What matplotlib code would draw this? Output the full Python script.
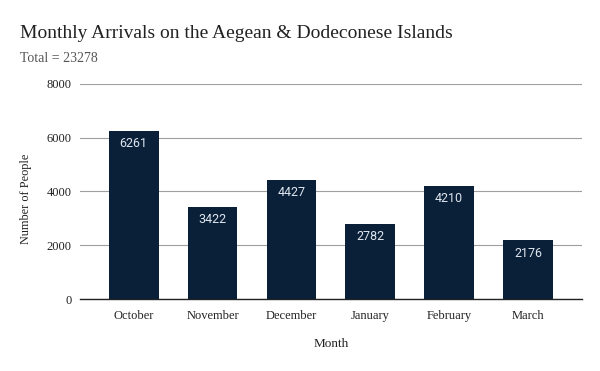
import numpy as np
import matplotlib.pyplot as plt

# Data
months = ['October', 'November', 'December', 'January', 'February', 'March']
arrivals = [6261, 3422, 4427, 2782, 4210, 2176]
yticks = [0, 2000, 4000, 6000, 8000]

bar_color = '#0a1f38'
serif = ['Liberation Serif', 'DejaVu Serif']

fig = plt.figure(figsize=(6, 3.71), dpi=100)
ax = fig.add_axes([0.133, 0.194, 0.837, 0.580])

x = np.arange(len(months))
bars = ax.bar(x, arrivals, width=0.63, color=bar_color, zorder=3)

for b, v in zip(bars, arrivals):
    ax.text(b.get_x() + b.get_width() / 2, v - 230, str(v), ha='center', va='top',
            color='#dfe6ee', fontsize=9, family=['Roboto', 'DejaVu Sans'], zorder=4)

ax.set_xlim(-0.684, len(months) - 1 + 0.684)
ax.set_ylim(0, 8000)
ax.set_yticks(yticks)
ax.set_yticklabels([str(t) for t in yticks], family=serif, fontsize=9, color='#222222')
ax.set_xticks(x)
ax.set_xticklabels(months, family=serif, fontsize=9, color='#222222')
ax.tick_params(axis='y', length=0, pad=6)
ax.tick_params(axis='x', length=0, pad=8)
ax.yaxis.grid(True, color='#9e9e9e', linewidth=0.8, zorder=0)

for side in ['top', 'right', 'left']:
    ax.spines[side].set_visible(False)
ax.spines['bottom'].set_color('#222222')
ax.spines['bottom'].set_linewidth(1)

ax.set_xlabel('Month', family=serif, fontsize=9.5, color='#222222')
ax.xaxis.set_label_coords(0.5, -(344 - 299) / 215, transform=ax.transAxes)
ax.set_ylabel('Number of People', family=serif, fontsize=8.8, color='#222222')
ax.yaxis.set_label_coords(-(80 - 26) / 502, (299 - 199) / 215, transform=ax.transAxes)
ax.yaxis.label.set_va('center')
ax.xaxis.label.set_va('center')

fig.text(20 / 600, 1 - 38 / 371, 'Monthly Arrivals on the Aegean & Dodeconese Islands',
         family=serif, fontsize=14, color='#222222', ha='left', va='baseline')
fig.text(20 / 600, 1 - 62 / 371, 'Total = 23278', family=serif, fontsize=10,
         color='#555555', ha='left', va='baseline')

fig.savefig('out.png', dpi=100)
